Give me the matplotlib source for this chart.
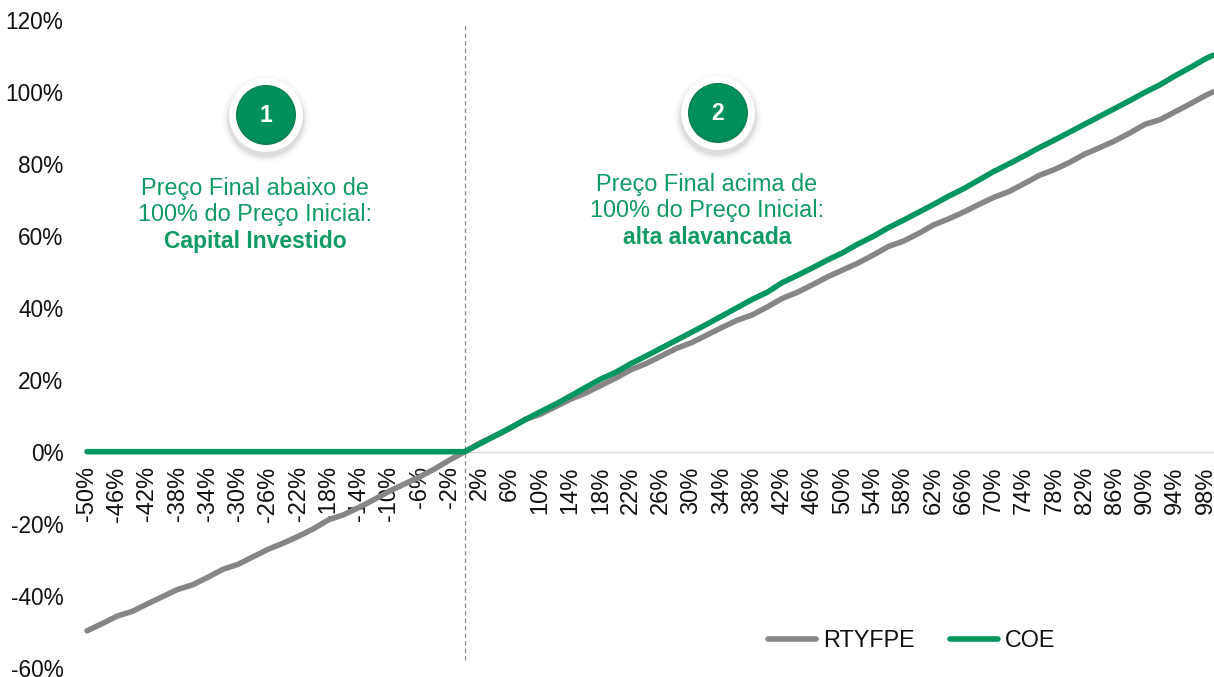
import matplotlib
matplotlib.use("Agg")
import matplotlib.pyplot as plt
from matplotlib.patches import Circle
from matplotlib.transforms import ScaledTranslation

plt.rcParams['font.family'] = ['Liberation Sans', 'DejaVu Sans']

categories = [-50, -48, -46, -44, -42, -40, -38, -36, -34, -32, -30, -28, -26, -24, -22, -20, -18, -16, -14, -12,
              -10, -8, -6, -4, -2, 0, 2, 4, 6, 8, 10, 12, 14, 16, 18, 20, 22, 24, 26, 28, 30, 32, 34, 36, 38, 40,
              42, 44, 46, 48, 50, 52, 54, 56, 58, 60, 62, 64, 66, 68, 70, 72, 74, 76, 78, 80, 82, 84, 86, 88, 90,
              92, 94, 96, 98, 99]
rtyfpe = [-49.8, -47.8, -45.7, -44.4, -42.3, -40.3, -38.3, -37.0, -34.9, -32.7, -31.3, -29.2, -27.1, -25.4, -23.5,
          -21.4, -18.9, -17.5, -15.5, -13.3, -11.0, -9.0, -7.0, -4.8, -2.3, 0.0, 2.4, 4.4, 6.5, 9.0, 10.4, 12.5, 14.6,
          16.3, 18.4, 20.5, 22.8, 24.5, 26.6, 28.7, 30.3, 32.4, 34.5, 36.5, 38.0, 40.2, 42.6, 44.3, 46.4, 48.6, 50.5,
          52.4, 54.6, 57.0, 58.5, 60.6, 63.0, 64.7, 66.6, 68.7, 70.7, 72.3, 74.5, 76.8, 78.4, 80.4, 82.7, 84.5, 86.4,
          88.6, 91.0, 92.3, 94.5, 96.7, 99.0, 100.0]
coe = [0.0] * 26 + [2.2, 4.4, 6.6, 8.9, 11.1, 13.2, 15.5, 17.9, 20.2, 22.1, 24.5, 26.6, 28.8, 31.0, 33.2, 35.4,
                    37.7, 40.0, 42.3, 44.3, 47.0, 49.0, 51.1, 53.3, 55.3, 57.7, 59.8, 62.2, 64.3, 66.5, 68.7, 71.0,
                    73.1, 75.5, 77.9, 80.0, 82.2, 84.5, 86.6, 88.8, 91.0, 93.2, 95.4, 97.6, 99.9, 102.0, 104.5,
                    106.8, 109.2, 110.2]
x_ticks = list(range(-50, 99, 4))
x_tick_labels = [f"{v}%" for v in x_ticks]
y_ticks = list(range(-60, 121, 20))
y_tick_labels = [f"{v}%" for v in y_ticks]

W, H = 1214, 677
GREEN = "#00965E"
TEXTG = "#0F9B63"
GRAY = "#868686"

fig = plt.figure(figsize=(W / 100, H / 100), dpi=100)
L, R, T, B = 87, 1213, 20, 667.5
ax = fig.add_axes([L / W, 1 - B / H, (R - L) / W, (B - T) / H])
ax.set_xlim(-50, 99)
ax.set_ylim(-60, 120)
for s in ['top', 'right', 'left']:
    ax.spines[s].set_visible(False)
ax.spines['bottom'].set_position(('data', 0))
ax.spines['bottom'].set_color('#D9D9D9')
ax.spines['bottom'].set_linewidth(1.0)
ax.patch.set_visible(False)

ax.set_xticks(x_ticks, x_tick_labels, rotation=90, ha='center', va='top', fontsize=17, color='#111111')
ax.set_yticks(y_ticks, y_tick_labels, fontsize=16.3, color='#111111')
ax.tick_params(axis='x', length=0, pad=10.5)
ax.tick_params(axis='y', length=0, pad=17)
shift = ScaledTranslation(0, -0.2 / 72, fig.dpi_scale_trans)
for lab in ax.get_yticklabels():
    lab.set_verticalalignment('center_baseline')
    lab.set_transform(lab.get_transform() + shift)

ax.plot([0, 0], [-58, 118.5], color='#8A8A8A', lw=0.9, ls=(0, (3.5, 2.5)), zorder=1)
l1, = ax.plot(categories, rtyfpe, color=GRAY, lw=4, solid_capstyle='round', solid_joinstyle='round',
              label='RTYFPE', clip_on=False, zorder=3)
l2, = ax.plot(categories, coe, color=GREEN, lw=4, solid_capstyle='round', solid_joinstyle='round',
              label='COE', clip_on=False, zorder=4)
ax.legend(handles=[l1, l2], ncol=2, frameon=False, fontsize=16.8, handlelength=2.06, handletextpad=0.32,
          columnspacing=1.48, loc='center left', bbox_to_anchor=((768 - L) / (R - L), (B - 640.5) / (B - T)),
          borderpad=0, borderaxespad=0, labelcolor='#111111')

# overlay in pixel coordinates for the call-outs
ov = fig.add_axes([0, 0, 1, 1])
ov.set_xlim(0, W)
ov.set_ylim(H, 0)
ov.axis('off')
ov.patch.set_visible(False)


def badge(cx, cy, txt):
    for r, a in [(44, .015), (42, .025), (40, .04), (38.5, .06)]:
        ov.add_patch(Circle((cx, cy + 4), r, fc='#000000', ec='none', alpha=a))
    ov.add_patch(Circle((cx, cy), 37, fc='#FFFFFF', ec='none'))
    for r, c in [(30, '#0B7F50'), (29, '#008A55'), (27.5, '#00915A')]:
        ov.add_patch(Circle((cx, cy - (30 - r) * .4), r, fc=c, ec='none'))
    ov.text(cx, cy + 0.5, txt, color='white', fontsize=16.5, fontweight='bold', ha='center', va='center')


badge(266, 115, '1')
badge(718, 113, '2')

for cx, ys, lines in [(255, (188, 214.5, 241.5), ("Preço Final abaixo de", "100% do Preço Inicial:", "Capital Investido")),
                      (707, (184, 210.5, 238), ("Preço Final acima de", "100% do Preço Inicial:", "alta alavancada"))]:
    ov.text(cx, ys[0], lines[0], color=TEXTG, fontsize=16.9, ha='center', va='center')
    ov.text(cx, ys[1], lines[1], color=TEXTG, fontsize=16.9, ha='center', va='center')
    ov.text(cx, ys[2], lines[2], color=TEXTG, fontsize=16.5, fontweight='bold', ha='center', va='center')

fig.savefig("out.png", dpi=100)
